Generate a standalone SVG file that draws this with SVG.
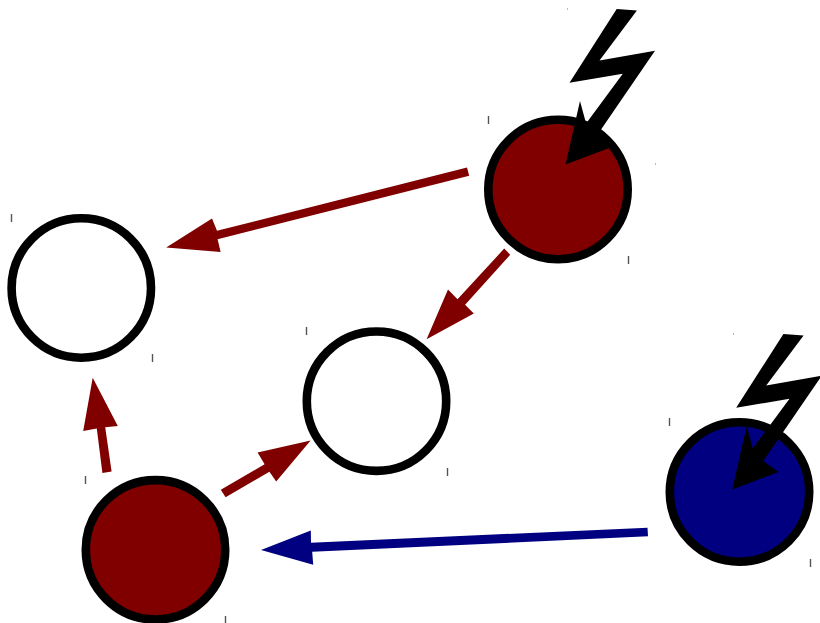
<svg xmlns="http://www.w3.org/2000/svg" width="820" height="623" viewBox="0 0 820 623">
<style>
.node{stroke:#000;stroke-width:8.6}
.empty{fill:#fff}
.red{fill:#800000}
.blue{fill:#000080}
.tick{stroke:#555;stroke-width:1.4;fill:none}
.dot{fill:#777}
.arrow-red{fill:#800000}
.arrow-blue{fill:#000080}
</style>
<defs>
<polygon id="bolt" fill="#000" points="783.4,334 803.6,335.6 766.2,385.6 821.7,375.7 763.3,461 778.6,472 732.2,489.5 746.7,426 752.8,448.5 789.5,398.8 736.2,407.7"/>
</defs>
<rect width="820" height="623" fill="#fff"/>
<g id="connectors">
<polygon class="arrow-red" points="467,167.4 217,230.8 212,218.6 166.2,247.5 220.6,252 217.6,239.2 469.2,175.8"/>
<polygon class="arrow-red" points="504.2,248.6 457.5,299.3 448,289.6 426.6,339.2 473.8,313.4 465.1,304.7 510.2,254.8"/>
<polygon class="arrow-red" points="102.4,472.9 96.8,428.5 83.2,431 92.7,377.8 117.8,426 105.2,427.2 111.6,471.5"/>
<polygon class="arrow-red" points="220.8,489.8 264.6,464.2 257.6,452.4 310.6,440.6 276.2,481.4 269.4,471.8 225.6,497.2"/>
<polygon class="arrow-blue" points="647.5,527.7 311,542.7 310.8,530.6 261,550 313.2,564.8 312.2,551.8 648,536.3"/>
</g>
<g id="node-left">
<circle class="node empty" cx="81.3" cy="288" r="69.7"/>
<line class="tick" x1="11.5" y1="214" x2="11.5" y2="222"/>
<line class="tick" x1="152.5" y1="354" x2="152.5" y2="362"/>
</g>
<g id="node-middle">
<circle class="node empty" cx="376.5" cy="401.2" r="69.7"/>
<line class="tick" x1="306.5" y1="327" x2="306.5" y2="335"/>
<line class="tick" x1="447.5" y1="468" x2="447.5" y2="476"/>
</g>
<g id="node-bottom-red">
<circle class="node red" cx="155.5" cy="549.8" r="69.7"/>
<line class="tick" x1="85.5" y1="476" x2="85.5" y2="484"/>
<line class="tick" x1="225.5" y1="616" x2="225.5" y2="623"/>
</g>
<g id="node-top-red">
<circle class="node red" cx="558" cy="189.5" r="69.7"/>
<line class="tick" x1="488.5" y1="116" x2="488.5" y2="124"/>
<line class="tick" x1="628.5" y1="256" x2="628.5" y2="264"/>
<rect class="dot" x="567" y="8.5" width="1" height="1"/>
<rect class="dot" x="655" y="163.5" width="1" height="1"/>
<use href="#bolt" x="-166.7" y="-325"/>
</g>
<g id="node-blue">
<circle class="node blue" cx="739.5" cy="492" r="69.7"/>
<line class="tick" x1="669.5" y1="418" x2="669.5" y2="426"/>
<line class="tick" x1="810.5" y1="559" x2="810.5" y2="567"/>
<rect class="dot" x="733" y="333.5" width="1" height="1"/>
<use href="#bolt"/>
</g>
</svg>
